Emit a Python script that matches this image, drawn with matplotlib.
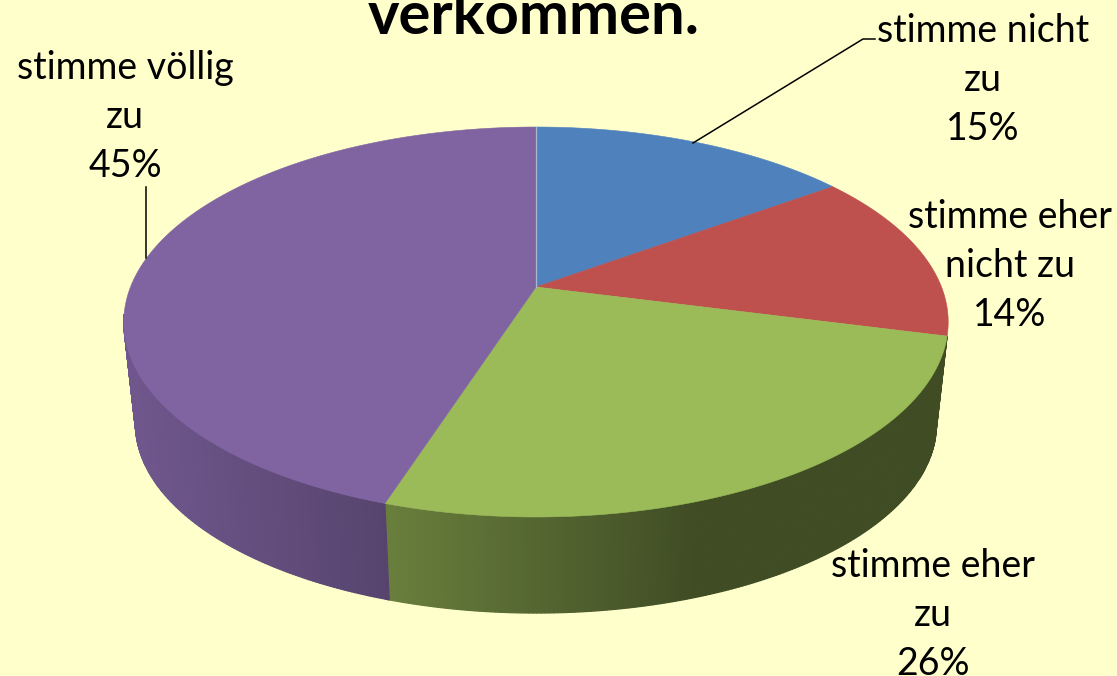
import numpy as np
import matplotlib
matplotlib.use("Agg")
import matplotlib.pyplot as plt
from matplotlib.patches import Polygon

# chart data
categories = ["stimme nicht\nzu", "stimme eher\nnicht zu", "stimme eher\nzu", "stimme völlig\nzu"]
values = [15, 14, 26, 45]
colors = ["#4F81BD", "#BE504D", "#9BBB59", "#8064A2"]
title = "verkommen."

# label centre x and last baseline y, in pixels
label_pos = [(983, 140), (1010, 326), (933, 675), (125, 177)]

# projection of the pie: apex, radii and perspective
cx = 536
top_y, top_r, top_h = 287, 405.5, 188.7
bot_y, bot_r, bot_h = 390, 394, 183
persp = 0.1795

# side shading runs left to right across the pie
shade_x = [135, 385, 695]
shade_f = [0.87, 0.68, 0.41]


def rim(t, r, h, y0):
    # t in degrees, clockwise from the back of the pie
    a = np.radians(t)
    s = 1 / (1 + persp * np.cos(a))
    return cx + r * np.sin(a) * s, y0 - h * np.cos(a) * s


def darken(color, f):
    return tuple(c * f for c in matplotlib.colors.to_rgb(color))


fig = plt.figure(figsize=(11.17, 6.76), dpi=100, facecolor="#FFFFCC")
ax = fig.add_axes([0, 0, 1, 1])
ax.set_xlim(0, 1117)
ax.set_ylim(676, 0)
ax.axis("off")

edges = np.concatenate([[0], np.cumsum(values)]) * 360 / sum(values)
visible_end = 262

# side wall, only slices facing the viewer
for i in range(len(values)):
    if (edges[i] + edges[i + 1]) / 2 < 120 or edges[i] > visible_end:
        continue
    ts = np.arange(edges[i], min(edges[i + 1], visible_end) + 0.5, 0.5)
    for t0, t1 in zip(ts[:-1], ts[1:]):
        x0, y0 = rim(t0, top_r, top_h, top_y)
        x1, y1 = rim(t1, top_r, top_h, top_y)
        x2, y2 = rim(t1, bot_r, bot_h, bot_y)
        x3, y3 = rim(t0, bot_r, bot_h, bot_y)
        col = darken(colors[i], np.interp((x0 + x1 + x2 + x3) / 4, shade_x, shade_f))
        ax.add_patch(Polygon([(x0, y0), (x1, y1), (x2, y2), (x3, y3)],
                             facecolor=col, edgecolor=col, lw=0.9))

# top face
for i in range(len(values)):
    ts = np.linspace(edges[i], edges[i + 1], 200)
    xs, ys = rim(ts, top_r, top_h, top_y)
    pts = np.column_stack([np.r_[cx, xs], np.r_[top_y, ys]])
    ax.add_patch(Polygon(pts, facecolor=colors[i], edgecolor=colors[i], lw=0.4))

# light seam where the first slice starts
sx, sy = rim(0, top_r, top_h, top_y)
ax.plot([cx, sx], [top_y, sy], color="#A9B8D0", lw=0.9)

# leader lines
ax.plot([693, 863, 875], [143, 39, 39], color="black", lw=1.1)
ax.plot([146, 146], [187, 258], color="black", lw=1.1)

# labels
for cat, v, (lx, ly) in zip(categories, values, label_pos):
    ax.text(lx, ly, "{0}\n{1}%".format(cat, v), family="Lato", fontsize=27,
            ha="center", va="baseline", ma="center", linespacing=1.45, color="black")

ax.text(534, 34, title, family="Lato", fontsize=43, fontweight="bold",
        ha="center", va="baseline", color="black")

fig.savefig("out.png", dpi=100, facecolor=fig.get_facecolor())
